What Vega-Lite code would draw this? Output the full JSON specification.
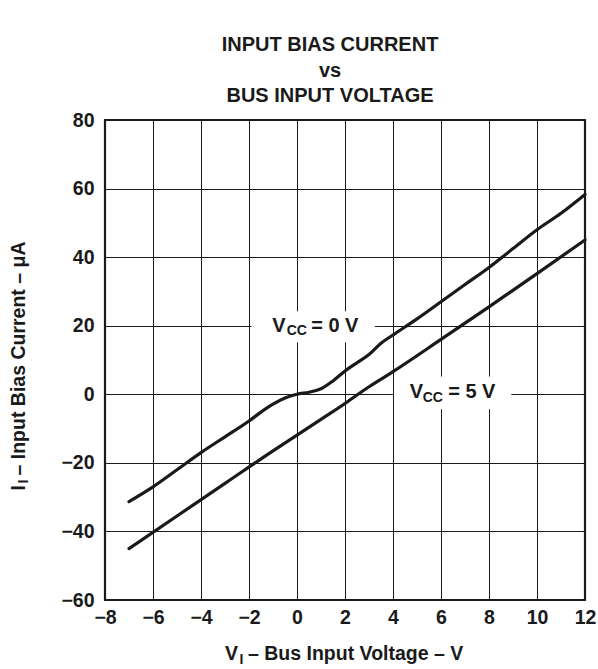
{
  "$schema": "https://vega.github.io/schema/vega-lite/v6.json",
  "width": 480,
  "height": 480,
  "autosize": {"type": "none"},
  "padding": {"left": 105, "top": 120, "right": 13, "bottom": 69},
  "background": "white",
  "config": {
    "view": {"stroke": "#1a1a1a", "strokeWidth": 2.2},
    "font": "Liberation Sans",
    "axis": {
      "domain": false,
      "ticks": false,
      "grid": true,
      "gridColor": "#1a1a1a",
      "gridWidth": 1,
      "gridOpacity": 1,
      "labelFlush": false,
      "labelOverlap": false,
      "labelFont": "Liberation Sans",
      "labelFontWeight": "bold",
      "labelFontSize": 19.5,
      "labelColor": "#1a1a1a"
    },
    "axisX": {"labelPadding": 8, "labelBaseline": "top"},
    "axisY": {"labelPadding": 11},
    "title": {
      "font": "Liberation Sans",
      "fontWeight": "bold",
      "fontSize": 20,
      "color": "#1a1a1a",
      "anchor": "middle",
      "frame": "group",
      "lineHeight": 25.5,
      "baseline": "bottom",
      "offset": 4,
      "dx": -15
    }
  },
  "title": {"text": ["INPUT BIAS CURRENT", "vs", "BUS INPUT VOLTAGE"]},
  "datasets": {
    "curves": [
      {"series": "VCC = 0 V", "v": -7, "i": -31.3},
      {"series": "VCC = 0 V", "v": -6, "i": -27},
      {"series": "VCC = 0 V", "v": -5, "i": -22},
      {"series": "VCC = 0 V", "v": -4, "i": -17},
      {"series": "VCC = 0 V", "v": -3, "i": -12.4},
      {"series": "VCC = 0 V", "v": -2, "i": -7.8},
      {"series": "VCC = 0 V", "v": -1.5, "i": -5.2},
      {"series": "VCC = 0 V", "v": -1, "i": -2.9},
      {"series": "VCC = 0 V", "v": -0.5, "i": -1.1},
      {"series": "VCC = 0 V", "v": 0, "i": 0},
      {"series": "VCC = 0 V", "v": 0.5, "i": 0.6},
      {"series": "VCC = 0 V", "v": 1, "i": 1.6},
      {"series": "VCC = 0 V", "v": 1.5, "i": 3.9},
      {"series": "VCC = 0 V", "v": 2, "i": 6.8},
      {"series": "VCC = 0 V", "v": 2.5, "i": 9.2},
      {"series": "VCC = 0 V", "v": 3, "i": 11.6},
      {"series": "VCC = 0 V", "v": 3.5, "i": 14.9},
      {"series": "VCC = 0 V", "v": 4, "i": 17.3},
      {"series": "VCC = 0 V", "v": 5, "i": 22},
      {"series": "VCC = 0 V", "v": 6, "i": 27},
      {"series": "VCC = 0 V", "v": 7, "i": 32},
      {"series": "VCC = 0 V", "v": 8, "i": 37},
      {"series": "VCC = 0 V", "v": 9, "i": 42.5},
      {"series": "VCC = 0 V", "v": 10, "i": 48},
      {"series": "VCC = 0 V", "v": 11, "i": 52.8},
      {"series": "VCC = 0 V", "v": 12, "i": 58.3},
      {"series": "VCC = 5 V", "v": -7, "i": -45},
      {"series": "VCC = 5 V", "v": -5, "i": -35.5},
      {"series": "VCC = 5 V", "v": -3, "i": -26},
      {"series": "VCC = 5 V", "v": -1, "i": -16.5},
      {"series": "VCC = 5 V", "v": 0, "i": -11.9},
      {"series": "VCC = 5 V", "v": 1, "i": -7.3},
      {"series": "VCC = 5 V", "v": 2, "i": -2.7},
      {"series": "VCC = 5 V", "v": 2.5, "i": -0.2},
      {"series": "VCC = 5 V", "v": 3, "i": 2.2},
      {"series": "VCC = 5 V", "v": 4, "i": 6.6},
      {"series": "VCC = 5 V", "v": 6, "i": 16},
      {"series": "VCC = 5 V", "v": 8, "i": 25.5},
      {"series": "VCC = 5 V", "v": 10, "i": 35.2},
      {"series": "VCC = 5 V", "v": 12, "i": 45}
    ],
    "boxes": [
      {"x1": -1.9, "x2": 3.24, "y1": 15.1, "y2": 24.2},
      {"x1": 4.05, "x2": 8.93, "y1": -4.4, "y2": 5.2}
    ],
    "labelMain": [
      {"t": "V", "x": -1.03, "y": 18.05},
      {"t": "= 0 V", "x": 0.59, "y": 18.05},
      {"t": "V", "x": 4.7, "y": -1.16},
      {"t": "= 5 V", "x": 6.3, "y": -1.16}
    ],
    "labelSub": [
      {"t": "CC", "x": -0.43, "y": 17.2},
      {"t": "CC", "x": 5.24, "y": -2.33}
    ]
  },
  "layer": [
    {
      "data": {"name": "curves"},
      "mark": {"type": "line", "color": "#1a1a1a", "strokeWidth": 3.2, "strokeCap": "round", "strokeJoin": "round", "interpolate": "monotone"},
      "encoding": {
        "x": {"field": "v", "type": "quantitative", "title": null, "scale": {"domain": [-8, 12], "nice": false, "zero": false}, "axis": {"values": [-8, -6, -4, -2, 0, 2, 4, 6, 8, 10, 12]}},
        "y": {"field": "i", "type": "quantitative", "title": null, "scale": {"domain": [-60, 80], "nice": false, "zero": false}, "axis": {"values": [-60, -40, -20, 0, 20, 40, 60, 80]}},
        "detail": {"field": "series"}
      }
    },
    {
      "data": {"name": "boxes"},
      "mark": {"type": "rect", "fill": "white", "stroke": null},
      "encoding": {
        "x": {"field": "x1", "type": "quantitative", "title": null, "scale": {"domain": [-8, 12], "nice": false, "zero": false}, "axis": {"values": [-8, -6, -4, -2, 0, 2, 4, 6, 8, 10, 12]}},
        "x2": {"field": "x2"},
        "y": {"field": "y1", "type": "quantitative", "title": null, "scale": {"domain": [-60, 80], "nice": false, "zero": false}, "axis": {"values": [-60, -40, -20, 0, 20, 40, 60, 80]}},
        "y2": {"field": "y2"}
      }
    },
    {
      "data": {"name": "labelMain"},
      "mark": {"type": "text", "font": "Liberation Sans", "fontWeight": "bold", "fontSize": 20, "color": "#1a1a1a", "align": "left", "baseline": "alphabetic"},
      "encoding": {
        "x": {"field": "x", "type": "quantitative", "title": null, "scale": {"domain": [-8, 12], "nice": false, "zero": false}, "axis": {"values": [-8, -6, -4, -2, 0, 2, 4, 6, 8, 10, 12]}},
        "y": {"field": "y", "type": "quantitative", "title": null, "scale": {"domain": [-60, 80], "nice": false, "zero": false}, "axis": {"values": [-60, -40, -20, 0, 20, 40, 60, 80]}},
        "text": {"field": "t"}
      }
    },
    {
      "data": {"name": "labelSub"},
      "mark": {"type": "text", "font": "Liberation Sans", "fontWeight": "bold", "fontSize": 14, "color": "#1a1a1a", "align": "left", "baseline": "alphabetic"},
      "encoding": {
        "x": {"field": "x", "type": "quantitative", "title": null, "scale": {"domain": [-8, 12], "nice": false, "zero": false}, "axis": {"values": [-8, -6, -4, -2, 0, 2, 4, 6, 8, 10, 12]}},
        "y": {"field": "y", "type": "quantitative", "title": null, "scale": {"domain": [-60, 80], "nice": false, "zero": false}, "axis": {"values": [-60, -40, -20, 0, 20, 40, 60, 80]}},
        "text": {"field": "t"}
      }
    },
    {
      "data": {"values": [{"t": "V"}]},
      "mark": {"type": "text", "font": "Liberation Sans", "fontWeight": "bold", "fontSize": 19.5, "color": "#1a1a1a", "align": "left", "baseline": "alphabetic", "dx": -120, "dy": 60},
      "encoding": {
        "x": {"datum": 2, "type": "quantitative", "title": null, "scale": {"domain": [-8, 12], "nice": false, "zero": false}, "axis": {"values": [-8, -6, -4, -2, 0, 2, 4, 6, 8, 10, 12]}},
        "y": {"datum": -60, "type": "quantitative", "title": null, "scale": {"domain": [-60, 80], "nice": false, "zero": false}, "axis": {"values": [-60, -40, -20, 0, 20, 40, 60, 80]}},
        "text": {"field": "t"}
      }
    },
    {
      "data": {"values": [{"t": "I"}]},
      "mark": {"type": "text", "font": "Liberation Sans", "fontWeight": "bold", "fontSize": 14, "color": "#1a1a1a", "align": "left", "baseline": "alphabetic", "dx": -105.5, "dy": 63.5},
      "encoding": {
        "x": {"datum": 2, "type": "quantitative", "title": null, "scale": {"domain": [-8, 12], "nice": false, "zero": false}, "axis": {"values": [-8, -6, -4, -2, 0, 2, 4, 6, 8, 10, 12]}},
        "y": {"datum": -60, "type": "quantitative", "title": null, "scale": {"domain": [-60, 80], "nice": false, "zero": false}, "axis": {"values": [-60, -40, -20, 0, 20, 40, 60, 80]}},
        "text": {"field": "t"}
      }
    },
    {
      "data": {"values": [{"t": " – Bus Input Voltage – V"}]},
      "mark": {"type": "text", "font": "Liberation Sans", "fontWeight": "bold", "fontSize": 19.5, "color": "#1a1a1a", "align": "left", "baseline": "alphabetic", "dx": -97, "dy": 60},
      "encoding": {
        "x": {"datum": 2, "type": "quantitative", "title": null, "scale": {"domain": [-8, 12], "nice": false, "zero": false}, "axis": {"values": [-8, -6, -4, -2, 0, 2, 4, 6, 8, 10, 12]}},
        "y": {"datum": -60, "type": "quantitative", "title": null, "scale": {"domain": [-60, 80], "nice": false, "zero": false}, "axis": {"values": [-60, -40, -20, 0, 20, 40, 60, 80]}},
        "text": {"field": "t"}
      }
    },
    {
      "data": {"values": [{"t": "I"}]},
      "mark": {"type": "text", "angle": 270, "font": "Liberation Sans", "fontWeight": "bold", "fontSize": 19.5, "color": "#1a1a1a", "align": "left", "baseline": "alphabetic", "dx": -130.5, "dy": -80},
      "encoding": {
        "x": {"datum": -8, "type": "quantitative", "title": null, "scale": {"domain": [-8, 12], "nice": false, "zero": false}, "axis": {"values": [-8, -6, -4, -2, 0, 2, 4, 6, 8, 10, 12]}},
        "y": {"datum": 10, "type": "quantitative", "title": null, "scale": {"domain": [-60, 80], "nice": false, "zero": false}, "axis": {"values": [-60, -40, -20, 0, 20, 40, 60, 80]}},
        "text": {"field": "t"}
      }
    },
    {
      "data": {"values": [{"t": "I"}]},
      "mark": {"type": "text", "angle": 270, "font": "Liberation Sans", "fontWeight": "bold", "fontSize": 14, "color": "#1a1a1a", "align": "left", "baseline": "alphabetic", "dx": -123.5, "dy": -77},
      "encoding": {
        "x": {"datum": -8, "type": "quantitative", "title": null, "scale": {"domain": [-8, 12], "nice": false, "zero": false}, "axis": {"values": [-8, -6, -4, -2, 0, 2, 4, 6, 8, 10, 12]}},
        "y": {"datum": 10, "type": "quantitative", "title": null, "scale": {"domain": [-60, 80], "nice": false, "zero": false}, "axis": {"values": [-60, -40, -20, 0, 20, 40, 60, 80]}},
        "text": {"field": "t"}
      }
    },
    {
      "data": {"values": [{"t": " – Input Bias Current – μA"}]},
      "mark": {"type": "text", "angle": 270, "font": "Liberation Sans", "fontWeight": "bold", "fontSize": 19.5, "color": "#1a1a1a", "align": "left", "baseline": "alphabetic", "dx": -115.5, "dy": -80},
      "encoding": {
        "x": {"datum": -8, "type": "quantitative", "title": null, "scale": {"domain": [-8, 12], "nice": false, "zero": false}, "axis": {"values": [-8, -6, -4, -2, 0, 2, 4, 6, 8, 10, 12]}},
        "y": {"datum": 10, "type": "quantitative", "title": null, "scale": {"domain": [-60, 80], "nice": false, "zero": false}, "axis": {"values": [-60, -40, -20, 0, 20, 40, 60, 80]}},
        "text": {"field": "t"}
      }
    }
  ]
}
